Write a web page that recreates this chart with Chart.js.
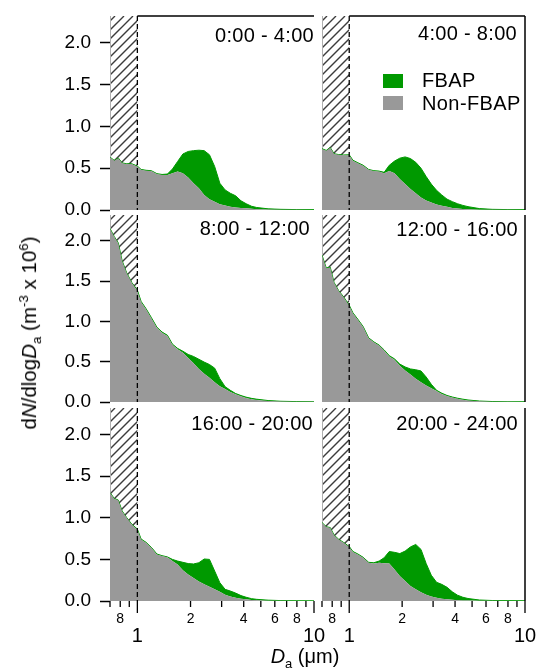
<!DOCTYPE html>
<html>
<head>
<meta charset="utf-8">
<script src="https://cdn.jsdelivr.net/npm/chart.js@4"></script>
<style>
  body { margin: 0; background: #fff; }
  #wrap { position: relative; width: 538px; height: 669px; font-family: 'Liberation Sans', Arial, sans-serif; color: #000; }
  canvas { position: absolute; }
  .ptitle { position: absolute; font-size: 20px; height: 24px; line-height: 24px; white-space: nowrap; letter-spacing: 0.3px; }
  .key { position: absolute; width: 20px; height: 14px; }
  .ktext { position: absolute; font-size: 20px; height: 24px; line-height: 24px; white-space: nowrap; letter-spacing: 0.4px; }
  #ytitle { position: absolute; left: 30px; top: 333px; font-size: 20.5px; white-space: nowrap;
            transform: translate(-50%, -50%) rotate(-90deg); }
  #xtitle { position: absolute; left: 305px; top: 658px; font-size: 20px; white-space: nowrap;
            transform: translate(-50%, -50%); }
  sub, sup { font-size: 0.65em; }
</style>
</head>
<body>
<div id="wrap">
  <canvas id="p0"></canvas>
  <canvas id="p1"></canvas>
  <canvas id="p2"></canvas>
  <canvas id="p3"></canvas>
  <canvas id="p4"></canvas>
  <canvas id="p5"></canvas>

  <div class="ptitle" style="right:224px;top:23px">0:00 - 4:00</div>
  <div class="ptitle" style="right:21px;top:21px">4:00 - 8:00</div>
  <div class="ptitle" style="right:228px;top:216px">8:00 - 12:00</div>
  <div class="ptitle" style="right:20px;top:217px">12:00 - 16:00</div>
  <div class="ptitle" style="right:225px;top:411px">16:00 - 20:00</div>
  <div class="ptitle" style="right:20px;top:411px">20:00 - 24:00</div>

  <div class="key" style="left:383px;top:74px;background:#009900"></div>
  <div class="ktext" style="left:422px;top:68px">FBAP</div>
  <div class="key" style="left:383px;top:96px;background:#999999"></div>
  <div class="ktext" style="left:422px;top:91px">Non-FBAP</div>

  <div id="ytitle">d<i>N</i>/dlog<i>D</i><sub>a</sub> (m<sup>-3</sup> x 10<sup>6</sup>)</div>
  <div id="xtitle"><i>D</i><sub>a</sub> (μm)</div>
</div>

<script>
// Aerodynamic diameter bins (um)
var diameters = [0.70, 0.74, 0.78, 0.82, 0.87, 0.93, 1.00, 1.05, 1.12, 1.20, 1.29, 1.38, 1.48, 1.58, 1.69,
                 1.81, 1.94, 2.08, 2.23, 2.39, 2.56, 2.74, 2.93, 3.14, 3.36, 3.60, 3.86, 4.13, 4.43, 4.74,
                 5.50, 6.50, 8.00, 10.0];

// dN/dlogDa (m^-3 x 10^6), one pair of arrays per 4 h period
var nonFbap_0_4 = [0.63, 0.59, 0.62, 0.56, 0.55, 0.55, 0.52, 0.48, 0.47, 0.465, 0.43, 0.42, 0.42, 0.44, 0.46,
                   0.44, 0.39, 0.32, 0.26, 0.18, 0.13, 0.10, 0.07, 0.055, 0.04, 0.03, 0.025, 0.02, 0.015, 0.01,
                   0.006, 0.004, 0.002, 0.001];
var fbap_0_4 = [0.003, 0.003, 0.003, 0.003, 0.003, 0.003, 0.005, 0.005, 0.005, 0.005, 0.005, 0.005, 0.01, 0.05, 0.12,
                0.23, 0.31, 0.39, 0.455, 0.53, 0.53, 0.42, 0.25, 0.185, 0.16, 0.14, 0.085, 0.055, 0.03, 0.02,
                0.008, 0.004, 0.003, 0.003];

var nonFbap_4_8 = [0.73, 0.71, 0.745, 0.67, 0.66, 0.655, 0.655, 0.59, 0.56, 0.53, 0.48, 0.465, 0.46, 0.44, 0.465,
                   0.44, 0.37, 0.31, 0.25, 0.20, 0.15, 0.115, 0.09, 0.065, 0.05, 0.04, 0.025, 0.018, 0.012, 0.008,
                   0.004, 0.003, 0.002, 0.001];
var fbap_4_8 = [0.003, 0.003, 0.003, 0.003, 0.003, 0.003, 0.005, 0.005, 0.005, 0.005, 0.005, 0.005, 0.005, 0.01, 0.07,
                0.145, 0.25, 0.325, 0.365, 0.37, 0.35, 0.285, 0.22, 0.17, 0.13, 0.09, 0.075, 0.057, 0.043, 0.032,
                0.013, 0.005, 0.003, 0.003];

var nonFbap_8_12 = [2.15, 2.05, 1.97, 1.75, 1.60, 1.48, 1.38, 1.24, 1.15, 1.04, 0.92, 0.86, 0.82, 0.71, 0.655,
                    0.61, 0.545, 0.48, 0.41, 0.35, 0.30, 0.245, 0.195, 0.16, 0.125, 0.095, 0.07, 0.05, 0.035, 0.025,
                    0.012, 0.006, 0.003, 0.002];
var fbap_8_12 = [0.003, 0.003, 0.003, 0.003, 0.003, 0.003, 0.008, 0.008, 0.008, 0.008, 0.008, 0.008, 0.008, 0.008, 0.01,
                 0.02, 0.045, 0.085, 0.12, 0.145, 0.165, 0.175, 0.095, 0.03, 0.02, 0.01, 0.01, 0.01, 0.01, 0.01,
                 0.006, 0.003, 0.002, 0.002];

var nonFbap_12_16 = [1.82, 1.66, 1.67, 1.48, 1.38, 1.30, 1.195, 1.10, 1.02, 0.93, 0.79, 0.74, 0.70, 0.64, 0.565,
                     0.525, 0.45, 0.39, 0.34, 0.29, 0.245, 0.205, 0.17, 0.135, 0.10, 0.075, 0.055, 0.04, 0.028, 0.018,
                     0.008, 0.004, 0.002, 0.001];
var fbap_12_16 = [0.003, 0.003, 0.003, 0.003, 0.003, 0.003, 0.006, 0.006, 0.006, 0.006, 0.006, 0.006, 0.006, 0.006, 0.01,
                  0.01, 0.02, 0.045, 0.07, 0.11, 0.14, 0.105, 0.05, 0.01, 0.01, 0.006, 0.007, 0.007, 0.007, 0.007,
                  0.004, 0.002, 0.002, 0.002];

var nonFbap_16_20 = [1.30, 1.23, 1.21, 1.08, 1.00, 0.92, 0.86, 0.74, 0.70, 0.64, 0.56, 0.54, 0.525, 0.48, 0.44,
                     0.37, 0.32, 0.275, 0.235, 0.20, 0.17, 0.14, 0.11, 0.075, 0.055, 0.04, 0.028, 0.02, 0.013, 0.009,
                     0.004, 0.002, 0.001, 0.001];
var fbap_16_20 = [0.003, 0.003, 0.003, 0.003, 0.003, 0.003, 0.005, 0.005, 0.005, 0.005, 0.005, 0.005, 0.005, 0.02, 0.04,
                  0.095, 0.13, 0.17, 0.225, 0.305, 0.33, 0.22, 0.11, 0.065, 0.065, 0.055, 0.037, 0.025, 0.015, 0.011,
                  0.006, 0.003, 0.002, 0.001];

var nonFbap_20_24 = [0.94, 0.89, 0.88, 0.79, 0.74, 0.70, 0.65, 0.59, 0.56, 0.52, 0.46, 0.45, 0.46, 0.455, 0.45,
                     0.38, 0.30, 0.24, 0.18, 0.14, 0.105, 0.075, 0.055, 0.04, 0.028, 0.02, 0.014, 0.01, 0.007, 0.005,
                     0.003, 0.002, 0.001, 0.001];
var fbap_20_24 = [0.003, 0.003, 0.003, 0.003, 0.003, 0.003, 0.005, 0.005, 0.005, 0.005, 0.005, 0.01, 0.02, 0.065, 0.145,
                  0.205, 0.27, 0.36, 0.47, 0.54, 0.515, 0.375, 0.255, 0.185, 0.172, 0.145, 0.096, 0.06, 0.038, 0.025,
                  0.009, 0.004, 0.003, 0.002];

// Axis ticks
var yTicks = [0, 0.5, 1.0, 1.5, 2.0];
var xTickValues = [0.7, 0.8, 0.9, 1, 2, 3, 4, 5, 6, 7, 8, 9, 10];
var xMinorLabels = [0.8, 2, 4, 6, 8];
var xMajorLabels = [1, 10];
var hatchEdge = 1.0;   // sizes below this are hatched out

var GREEN = '#009900';
var GRAY = '#999999';
var FONT = "'Liberation Sans', Arial, sans-serif";

function points(values) {
    return diameters.map(function (d, i) { return { x: d, y: values[i] }; });
}

// Hatched box, dashed line at 1 um, frame and bottom axis ticks
var panelDecor = {
    id: 'panelDecor',
    beforeDatasetsDraw: function (chart) {
        var ctx = chart.ctx, a = chart.chartArea;
        var x1 = chart.scales.x.getPixelForValue(hatchEdge);
        ctx.save();
        ctx.fillStyle = '#fff';
        ctx.fillRect(a.left, a.top, x1 - a.left, a.bottom - a.top);
        ctx.beginPath();
        ctx.rect(a.left, a.top, x1 - a.left, a.bottom - a.top);
        ctx.clip();
        ctx.strokeStyle = '#3c3c3c';
        ctx.lineWidth = 1.4;
        ctx.beginPath();
        for (var c = a.left + a.top - 40; c < x1 + a.bottom + 40; c += 9) {
            ctx.moveTo(c - a.bottom, a.bottom);
            ctx.lineTo(c - a.top, a.top);
        }
        ctx.stroke();
        ctx.restore();
        ctx.save();
        ctx.strokeStyle = '#b0b0b0';
        ctx.lineWidth = 1;
        ctx.beginPath();
        ctx.moveTo(a.left + 0.5, a.top);
        ctx.lineTo(a.left + 0.5, a.bottom);
        ctx.stroke();
        ctx.restore();
    },
    afterDatasetsDraw: function (chart, args, opts) {
        var ctx = chart.ctx, a = chart.chartArea, xs = chart.scales.x;
        var x1 = xs.getPixelForValue(hatchEdge);
        ctx.save();
        ctx.strokeStyle = '#000';
        ctx.lineWidth = 1.3;
        ctx.setLineDash([5, 3]);
        ctx.beginPath();
        ctx.moveTo(x1, a.top);
        ctx.lineTo(x1, a.bottom);
        ctx.stroke();
        ctx.setLineDash([]);
        ctx.lineWidth = 1.5;
        ctx.beginPath();
        if (opts.topBorder) {
            ctx.moveTo(x1, a.top);
            ctx.lineTo(a.right, a.top);
        }
        if (opts.rightBorder) {
            ctx.moveTo(a.right, a.top);
            ctx.lineTo(a.right, a.bottom);
        }
        ctx.stroke();
        if (opts.bottomAxis) {
            ctx.lineWidth = 1.3;
            ctx.beginPath();
            xTickValues.forEach(function (v) {
                var px = xs.getPixelForValue(v);
                var major = xMajorLabels.indexOf(v) >= 0;
                ctx.moveTo(px, a.bottom);
                ctx.lineTo(px, a.bottom + (major ? 12 : 6));
            });
            ctx.stroke();
            ctx.fillStyle = '#000';
            ctx.textAlign = 'center';
            ctx.textBaseline = 'middle';
            ctx.font = '14px ' + FONT;
            xMinorLabels.forEach(function (v) {
                ctx.fillText(v < 1 ? String(Math.round(v * 10)) : String(v), xs.getPixelForValue(v), a.bottom + 18);
            });
            ctx.font = '20px ' + FONT;
            xMajorLabels.forEach(function (v) {
                ctx.fillText(String(v), xs.getPixelForValue(v), a.bottom + 35);
            });
        }
        ctx.restore();
    }
};

function makePanel(id, nonFbap, fbap, col, row) {
    var canvas = document.getElementById(id);
    var left = col === 0 ? 0 : 316;
    var width = col === 0 ? 330 : 222;
    var tops = [0, 205, 398];
    var heights = [222, 209, 271];
    var padTop = [16, 10, 10][row];
    var padBottom = [12, 12, 68][row];
    canvas.width = width;
    canvas.height = heights[row];
    canvas.style.left = left + 'px';
    canvas.style.top = tops[row] + 'px';

    var yScale = {
        stacked: true,
        min: 0,
        max: 2.32,
        display: false
    };
    if (col === 0) {
        yScale = {
            stacked: true,
            min: 0,
            max: 2.32,
            afterBuildTicks: function (s) {
                s.ticks = yTicks.map(function (v) { return { value: v }; });
            },
            afterFit: function (s) {
                s.width = 110;
                s.paddingTop = 0;
                s.paddingBottom = 0;
            },
            border: { display: false },
            grid: {
                drawOnChartArea: false,
                drawTicks: true,
                tickLength: 10,
                tickColor: '#000',
                tickWidth: 1.5
            },
            ticks: {
                color: '#000',
                padding: 9,
                font: { family: FONT, size: 19 },
                callback: function (v) { return Number(v).toFixed(1); }
            }
        };
    }

    return new Chart(canvas.getContext('2d'), {
        type: 'line',
        data: {
            datasets: [{
                label: 'Non-FBAP',
                data: points(nonFbap),
                backgroundColor: GRAY,
                borderWidth: 0,
                fill: 'origin',
                pointRadius: 0,
                tension: 0
            }, {
                label: 'FBAP',
                data: points(fbap),
                backgroundColor: GREEN,
                borderColor: GREEN,
                borderWidth: 1,
                fill: '-1',
                pointRadius: 0,
                tension: 0
            }]
        },
        options: {
            responsive: false,
            animation: false,
            devicePixelRatio: 1,
            layout: {
                padding: { left: col === 0 ? 0 : 6, top: padTop, right: col === 0 ? 16 : 13, bottom: padBottom }
            },
            plugins: {
                legend: { display: false },
                tooltip: { enabled: false },
                panelDecor: { topBorder: row === 0, rightBorder: col === 1, bottomAxis: row === 2 }
            },
            scales: {
                x: {
                    type: 'logarithmic',
                    min: 0.7,
                    max: 10,
                    display: false
                },
                y: yScale
            }
        },
        plugins: [panelDecor]
    });
}

makePanel('p0', nonFbap_0_4, fbap_0_4, 0, 0);
makePanel('p1', nonFbap_4_8, fbap_4_8, 1, 0);
makePanel('p2', nonFbap_8_12, fbap_8_12, 0, 1);
makePanel('p3', nonFbap_12_16, fbap_12_16, 1, 1);
makePanel('p4', nonFbap_16_20, fbap_16_20, 0, 2);
makePanel('p5', nonFbap_20_24, fbap_20_24, 1, 2);
</script>
</body>
</html>
